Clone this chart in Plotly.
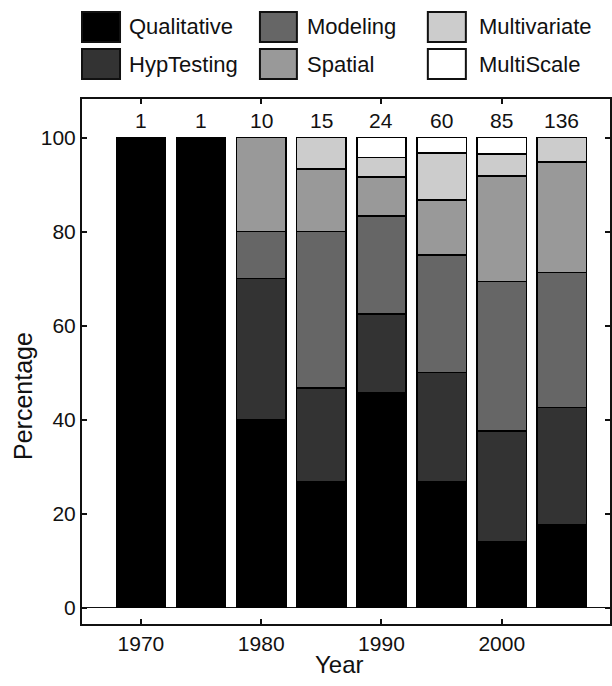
import plotly.graph_objects as go

years = [1970, 1975, 1980, 1985, 1990, 1995, 2000, 2005]
counts = [1, 1, 10, 15, 24, 60, 85, 136]

qualitative = [100, 100, 40, 26.7, 45.8, 26.7, 14.1, 17.6]
hyptesting = [0, 0, 30, 20.0, 16.7, 23.3, 23.5, 25.0]
modeling = [0, 0, 10, 33.3, 20.8, 25.0, 31.8, 28.7]
spatial = [0, 0, 20, 13.3, 8.3, 11.7, 22.4, 23.5]
multivariate = [0, 0, 0, 6.7, 4.2, 10.0, 4.7, 5.2]
multiscale = [0, 0, 0, 0, 4.2, 3.3, 3.5, 0]

series_names = ["Qualitative", "HypTesting", "Modeling", "Spatial", "Multivariate", "MultiScale"]
series_values = [qualitative, hyptesting, modeling, spatial, multivariate, multiscale]
colors = ["#000000", "#333333", "#666666", "#999999", "#cccccc", "#ffffff"]

FONT = "Liberation Sans, Arial, Helvetica, sans-serif"

fig = go.Figure()
for name, vals, col in zip(series_names, series_values, colors):
    fig.add_trace(go.Bar(
        x=years, y=vals, name=name, width=4.1,
        marker=dict(color=col, line=dict(color="#000000", width=1.5)),
        showlegend=False,
    ))

# counts above bars
for yr, c in zip(years, counts):
    fig.add_annotation(x=yr, y=103.6, xref="x", yref="y", text=str(c), showarrow=False,
                       font=dict(family=FONT, size=21, color="#111"), yanchor="middle")

# manual legend (3 columns x 2 rows)
legend_layout = [
    # (name index, swatch x0, x1, y0, y1, text x)
    (0, 0.0, 0.072, 1.1086, 1.1657, 0.085),
    (2, 0.337, 0.407, 1.1086, 1.1657, 0.422),
    (4, 0.655, 0.727, 1.1086, 1.1657, 0.748),
    (1, 0.0, 0.072, 1.0381, 1.0952, 0.085),
    (3, 0.337, 0.407, 1.0381, 1.0952, 0.422),
    (5, 0.655, 0.727, 1.0381, 1.0952, 0.748),
]
for idx, x0, x1, y0, y1, tx in legend_layout:
    fig.add_shape(type="rect", xref="paper", yref="paper", x0=x0, x1=x1, y0=y0, y1=y1,
                  fillcolor=colors[idx], line=dict(color="#111", width=2))
    fig.add_annotation(x=tx, y=(y0 + y1) / 2, xref="paper", yref="paper", text=series_names[idx],
                       showarrow=False, xanchor="left", yanchor="middle",
                       font=dict(family=FONT, size=22, color="#111"))

# axis titles
fig.add_annotation(x=0.487, y=-0.078, xref="paper", yref="paper", text="Year", showarrow=False,
                   xanchor="center", yanchor="middle", font=dict(family=FONT, size=24, color="#111"))
fig.add_annotation(x=-0.112, y=0.434, xref="paper", yref="paper", text="Percentage", showarrow=False,
                   textangle=-90, xanchor="center", yanchor="middle",
                   font=dict(family=FONT, size=25, color="#111"))

fig.update_layout(
    barmode="stack",
    width=612, height=686,
    margin=dict(l=82, r=2, t=99, b=62, autoexpand=False),
    paper_bgcolor="white", plot_bgcolor="white",
    font=dict(family=FONT, size=21, color="#111"),
)
fig.update_xaxes(
    range=[1965.1, 2009], tickvals=[1970, 1980, 1990, 2000],
    ticks="inside", ticklen=5, tickwidth=2, tickcolor="#111",
    showline=True, linecolor="#111", linewidth=2, mirror="ticks",
    showgrid=False, zeroline=False, automargin=False,
    tickfont=dict(family=FONT, size=21, color="#111"),
    ticklabelstandoff=0,
)
fig.update_yaxes(
    range=[-3.5, 108.2], tickvals=[0, 20, 40, 60, 80, 100],
    ticks="inside", ticklen=5, tickwidth=2, tickcolor="#111",
    showline=True, linecolor="#111", linewidth=2, mirror="ticks",
    showgrid=False, zeroline=True, zerolinecolor="#111", zerolinewidth=1,
    automargin=False,
    tickfont=dict(family=FONT, size=21, color="#111"),
    ticklabelstandoff=0,
)

fig.write_html(
    "out.html",
    config={"displayModeBar": False},
    post_script="document.body.style.margin='0';document.body.style.overflow='hidden';",
)
